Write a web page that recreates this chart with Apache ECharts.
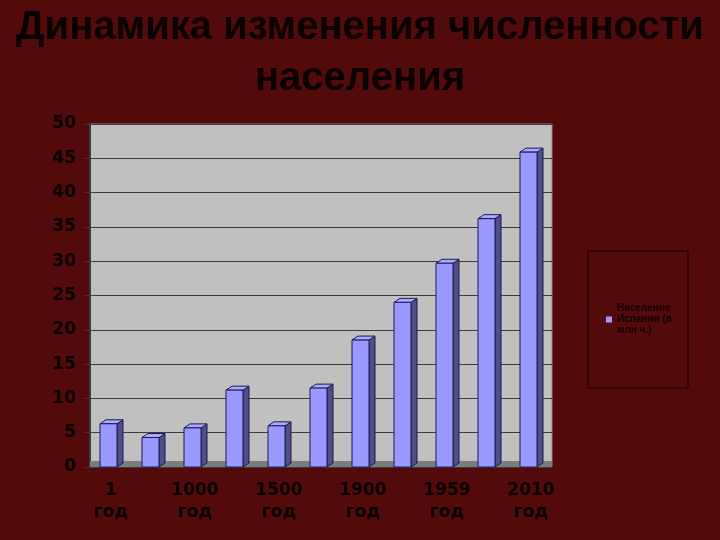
<!DOCTYPE html>
<html>
<head>
<meta charset="utf-8">
<script src="https://cdn.jsdelivr.net/npm/echarts@6/dist/echarts.min.js"></script>
<style>
    html, body { margin: 0; padding: 0; background: #520a0a; }
    #chart { width: 720px; height: 540px; }
</style>
</head>
<body>
<div id="chart"></div>
<script>
// годы (подписи видны через одну)
var years = ['1\nгод', '500\nгод', '1000\nгод', '1300\nгод', '1500\nгод', '1800\nгод',
    '1900\nгод', '1930\nгод', '1959\nгод', '1980\nгод', '2010\nгод'];
// население, млн чел.
var population = [6.3, 4.3, 5.7, 11.2, 6.0, 11.5, 18.5, 24.0, 29.7, 36.2, 45.9];
var seriesName = 'Население Испании (в млн ч.)';
var yTicks = {min: 0, max: 50, interval: 5};

var chart = echarts.init(document.getElementById('chart'));

/**
 * объёмный столбик: передняя грань, бок и верх
 */
var bar3d = function (params, api) {
    var cat = api.value(0);
    var base = api.coord([cat, 0]);
    var top = api.coord([cat, api.value(1)]);
    var cx = base[0], d = 6, h = 4;
    var x0 = cx - 11, x1 = cx + 6;
    var stroke = {stroke: '#1a1a55', lineWidth: 1};
    return {
        type: 'group',
        children: [{
            type: 'polygon',
            shape: {points: [[x1, top[1]], [x1 + d, top[1] - h], [x1 + d, base[1] - h], [x1, base[1]]]},
            style: Object.assign({fill: '#4f4f85'}, stroke)
        }, {
            type: 'polygon',
            shape: {points: [[x0, top[1]], [x0 + d, top[1] - h], [x1 + d, top[1] - h], [x1, top[1]]]},
            style: Object.assign({fill: '#aaaaff'}, stroke)
        }, {
            type: 'rect',
            shape: {x: x0, y: top[1], width: x1 - x0, height: base[1] - top[1]},
            style: Object.assign({fill: '#9999ff'}, stroke)
        }]
    };
};

var labelFont = {
    color: '#0a0000',
    fontWeight: 'bold',
    fontSize: 17,
    fontFamily: "'DejaVu Sans', sans-serif"
};

var option = {
    backgroundColor: '#520a0a',
    animation: false,
    title: {
        text: 'Динамика изменения численности\nнаселения',
        left: 'center',
        top: -3,
        textStyle: {
            fontFamily: "'Liberation Sans', Arial, sans-serif",
            fontWeight: 'bold',
            fontSize: 40,
            lineHeight: 51,
            color: '#0a0000'
        }
    },
    legend: {
        orient: 'vertical',
        left: 601,
        top: 298,
        itemWidth: 6,
        itemHeight: 6,
        itemGap: 4,
        icon: 'rect',
        formatter: function () { return 'Население\nИспании (в\nмлн ч.)'; },
        textStyle: {
            fontSize: 10,
            lineHeight: 11,
            color: '#140000',
            fontFamily: "'Liberation Sans', Arial, sans-serif",
            fontWeight: 'bold'
        }
    },
    graphic: [{
        type: 'rect',
        shape: {x: 588, y: 251, width: 100, height: 137},
        style: {fill: 'none', stroke: '#140000', lineWidth: 1},
        z: 0
    }, {
        type: 'rect',
        shape: {x: 90, y: 461, width: 462, height: 6},
        style: {fill: '#7c7c7c'},
        z: 1
    }],
    grid: {
        left: 90, right: 168, top: 124, bottom: 73,
        show: true,
        backgroundColor: '#c0c0c0',
        borderColor: '#8a8a8a',
        borderWidth: 1
    },
    xAxis: {
        type: 'category',
        data: years,
        axisLine: {show: false},
        axisTick: {show: false},
        axisLabel: Object.assign({interval: 1, margin: 13, lineHeight: 22}, labelFont)
    },
    yAxis: {
        type: 'value',
        min: yTicks.min,
        max: yTicks.max,
        interval: yTicks.interval,
        axisLine: {show: true, lineStyle: {color: '#3a3a3a', width: 2}},
        axisTick: {show: true, length: 5, lineStyle: {color: '#3a3a3a'}},
        axisLabel: Object.assign({margin: 14}, labelFont),
        splitLine: {lineStyle: {color: '#3c3c3c', width: 1}}
    },
    series: [{
        name: seriesName,
        type: 'custom',
        renderItem: bar3d,
        itemStyle: {color: '#9999ff'},
        encode: {x: 0, y: 1},
        z: 3,
        data: population.map(function (v, i) { return [i, v]; })
    }]
};

chart.setOption(option);
</script>
</body>
</html>
